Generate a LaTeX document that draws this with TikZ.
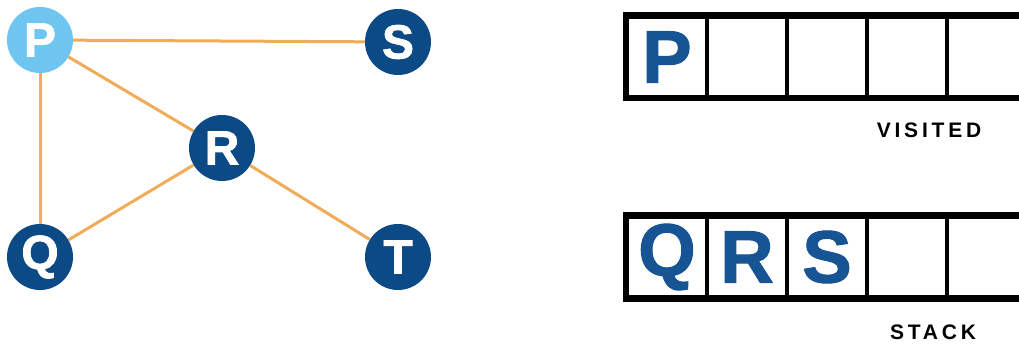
\documentclass[tikz,border=0pt]{standalone}
\usepackage{fontspec}
\setmainfont{Liberation Sans}
\usepackage{tikz}
\usetikzlibrary{positioning}
\definecolor{nodeNavy}{RGB}{12,74,134}
\definecolor{nodeSky}{RGB}{110,197,240}
\definecolor{edgeOrange}{RGB}{240,172,88}
\definecolor{cellBlue}{RGB}{22,84,148}

\begin{document}
\begin{tikzpicture}[x=1pt,y=-1pt,
  vertex/.style={circle, fill=nodeNavy, text=white, minimum size=66pt, inner sep=0pt,
    font=\fontsize{48}{48}\selectfont\bfseries\addfontfeatures{FakeBold=1.5}},
  edge/.style={draw=edgeOrange, line width=3pt},
  cellbox/.style={draw=black, line width=3.5pt, minimum width=80pt, minimum height=80pt,
    inner sep=0pt, text=cellBlue, font=\fontsize{74}{74}\selectfont\bfseries\addfontfeatures{FakeBold=1.5}},
  caption/.style={font=\fontsize{21}{21}\selectfont\bfseries\addfontfeatures{LetterSpace=18}}]
\clip (0,0) rectangle (1019,347);
\fill[white] (0,0) rectangle (1019,347);

% graph
\node[vertex, fill=nodeSky] (P) at (40,40) {P};
\node[vertex] (S) at (398,42) {S};
\node[vertex] (R) at (222,148) {R};
\node[vertex] (Q) at (40,257) {Q};
\node[vertex] (T) at (398,257) {T};

\draw[edge] (P) -- (S);
\draw[edge] (P) -- (R);
\draw[edge] (P) -- (Q);
\draw[edge] (Q) -- (R);
\draw[edge] (R) -- (T);

% visited array
\foreach \i/\lbl in {0/P,1/,2/,3/,4/}
  \node[cellbox] (v\i) at (667+80*\i,57) {\lbl};
\draw[line width=5.5pt] (v0.north west) rectangle (v4.south east);
\node[caption] (visited) at (929,130) {VISITED};

% stack array
\foreach \i/\lbl in {0/Q,1/R,2/S,3/,4/}
  \node[cellbox] (s\i) at (667+80*\i,257) {\lbl};
\draw[line width=5.5pt] (s0.north west) rectangle (s4.south east);
\node[caption] (stack) at (933,332) {STACK};
\end{tikzpicture}
\end{document}
